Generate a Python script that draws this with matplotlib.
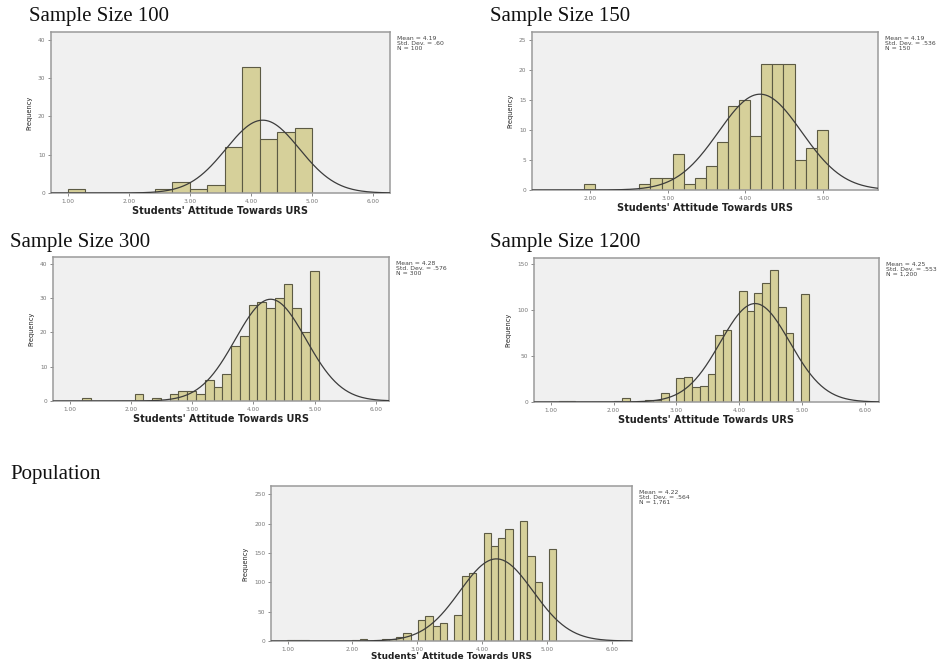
import numpy as np
import matplotlib
matplotlib.use("Agg")
import matplotlib.pyplot as plt

# ---------------- data ----------------
titles = ["Sample Size 100", "Sample Size 150", "Sample Size 300",
          "Sample Size 1200", "Population"]
means = [4.19, 4.19, 4.28, 4.25, 4.22]
sds = [0.60, 0.536, 0.576, 0.553, 0.564]
stat_text = ["Mean = 4.19\nStd. Dev. = .60\nN = 100",
             "Mean = 4.19\nStd. Dev. = .536\nN = 150",
             "Mean = 4.28\nStd. Dev. = .576\nN = 300",
             "Mean = 4.25\nStd. Dev. = .553\nN = 1,200",
             "Mean = 4.22\nStd. Dev. = .564\nN = 1,761"]
ns = [100, 150, 300, 1200, 1761]

# histogram bins: first edge, bin width, frequencies
bin_start = [1.0, 1.92, 1.205, 1.14, 0.9886]
bin_width = [4 / 14, 1 / 7, 1 / 7, 0.124, 0.1123]

counts_100 = [1, 0, 0, 0, 0, 1, 3, 1, 2, 12, 33, 14, 16, 17]
counts_150 = [1, 0, 0, 0, 0, 1, 2, 2, 6, 1, 2, 4, 8, 14, 15, 9, 21, 21, 21, 5, 7, 10]
counts_300 = [1, 0, 0, 0, 0, 0, 2, 0, 1, 0, 2, 3, 3, 2, 6, 4, 8, 16, 19, 28,
              29, 27, 30, 34, 27, 20, 38]
counts_1200 = [1, 1, 0, 0, 0, 0, 0, 1, 4, 0, 1, 2, 2, 10, 0, 26, 27, 16, 17, 31,
               73, 78, 0, 121, 99, 119, 130, 144, 104, 75, 0, 118]
counts_pop = [2, 2, 1, 0, 0, 0, 0, 0, 0, 2, 4, 0, 2, 3, 4, 6, 13, 0, 36, 43,
              26, 30, 0, 45, 110, 115, 0, 184, 161, 175, 191, 0, 204, 145, 101, 0, 156]
all_counts = [counts_100, counts_150, counts_300, counts_1200, counts_pop]

x_ticks = [[1, 2, 3, 4, 5, 6], [2, 3, 4, 5], [1, 2, 3, 4, 5, 6],
           [1, 2, 3, 4, 5, 6], [1, 2, 3, 4, 5, 6]]
y_ticks = [[0, 10, 20, 30, 40], [0, 5, 10, 15, 20, 25], [0, 10, 20, 30, 40],
           [0, 50, 100, 150], [0, 50, 100, 150, 200, 250]]

# ---------------- layout ----------------
W, H = 950, 663
# axes frames in pixels: left, top, right, bottom
frames = [(51, 32, 390, 193), (532, 32, 878, 190), (53, 257, 389, 401),
          (534, 258, 879, 402), (271, 486, 632, 641)]
xlims = [(0.73, 6.27), (1.25, 5.71), (0.73, 6.21), (0.735, 6.22), (0.744, 6.31)]
ylims = [(0, 42), (0, 26.3), (0, 42), (0, 157), (0, 264)]
title_pos = [(29, 17), (490, 17), (10, 242), (490, 242), (10, 474)]
xlabel_pad = [2, 2, 2, 2, 0.5]
xlabel_size = [7, 7, 7, 7, 6.4]

BAR = "#d6d09a"
EDGE = "#5c5a44"
BG = "#f0f0f0"

fig = plt.figure(figsize=(W / 100, H / 100), dpi=100)

for k in range(5):
    l, t, r, b = frames[k]
    ax = fig.add_axes([l / W, 1 - b / H, (r - l) / W, (b - t) / H])
    ax.set_facecolor(BG)

    cnt = np.array(all_counts[k])
    left = bin_start[k] + bin_width[k] * np.arange(len(cnt))
    keep = cnt > 0
    ax.bar(left[keep], cnt[keep], width=bin_width[k], align="edge",
           color=BAR, edgecolor=EDGE, linewidth=0.8, zorder=2)

    # fitted normal curve, scaled to counts
    xs = np.linspace(xlims[k][0], xlims[k][1], 300)
    pdf = np.exp(-0.5 * ((xs - means[k]) / sds[k]) ** 2) / (sds[k] * np.sqrt(2 * np.pi))
    ax.plot(xs, ns[k] * bin_width[k] * pdf, color="#3c3c3c", lw=0.9, zorder=3)

    ax.set_xlim(*xlims[k])
    ax.set_ylim(*ylims[k])
    ax.set_xticks(x_ticks[k])
    ax.set_xticklabels(["%.2f" % v for v in x_ticks[k]])
    ax.set_yticks(y_ticks[k])
    ax.tick_params(labelsize=4.2, colors="#777777", length=2.5, width=0.6, pad=1.5)
    for s in ax.spines.values():
        s.set_color("#9a9a9a")
        s.set_linewidth(1.1)

    ax.set_xlabel("Students' Attitude Towards URS", fontsize=xlabel_size[k],
                  fontweight="bold", color="#222222", labelpad=xlabel_pad[k])
    ax.set_ylabel("Frequency", fontsize=4.8, color="#222222", labelpad=4)

    fig.text((r + 7) / W, 1 - (t + 4) / H, stat_text[k], fontsize=4.4,
             color="#444444", va="top", ha="left", linespacing=0.95)

    tx, ty = title_pos[k]
    fig.text(tx / W, 1 - ty / H, titles[k], fontsize=15, family="Liberation Serif",
             va="center", ha="left", color="#111111")

fig.savefig("out.png", dpi=100)
